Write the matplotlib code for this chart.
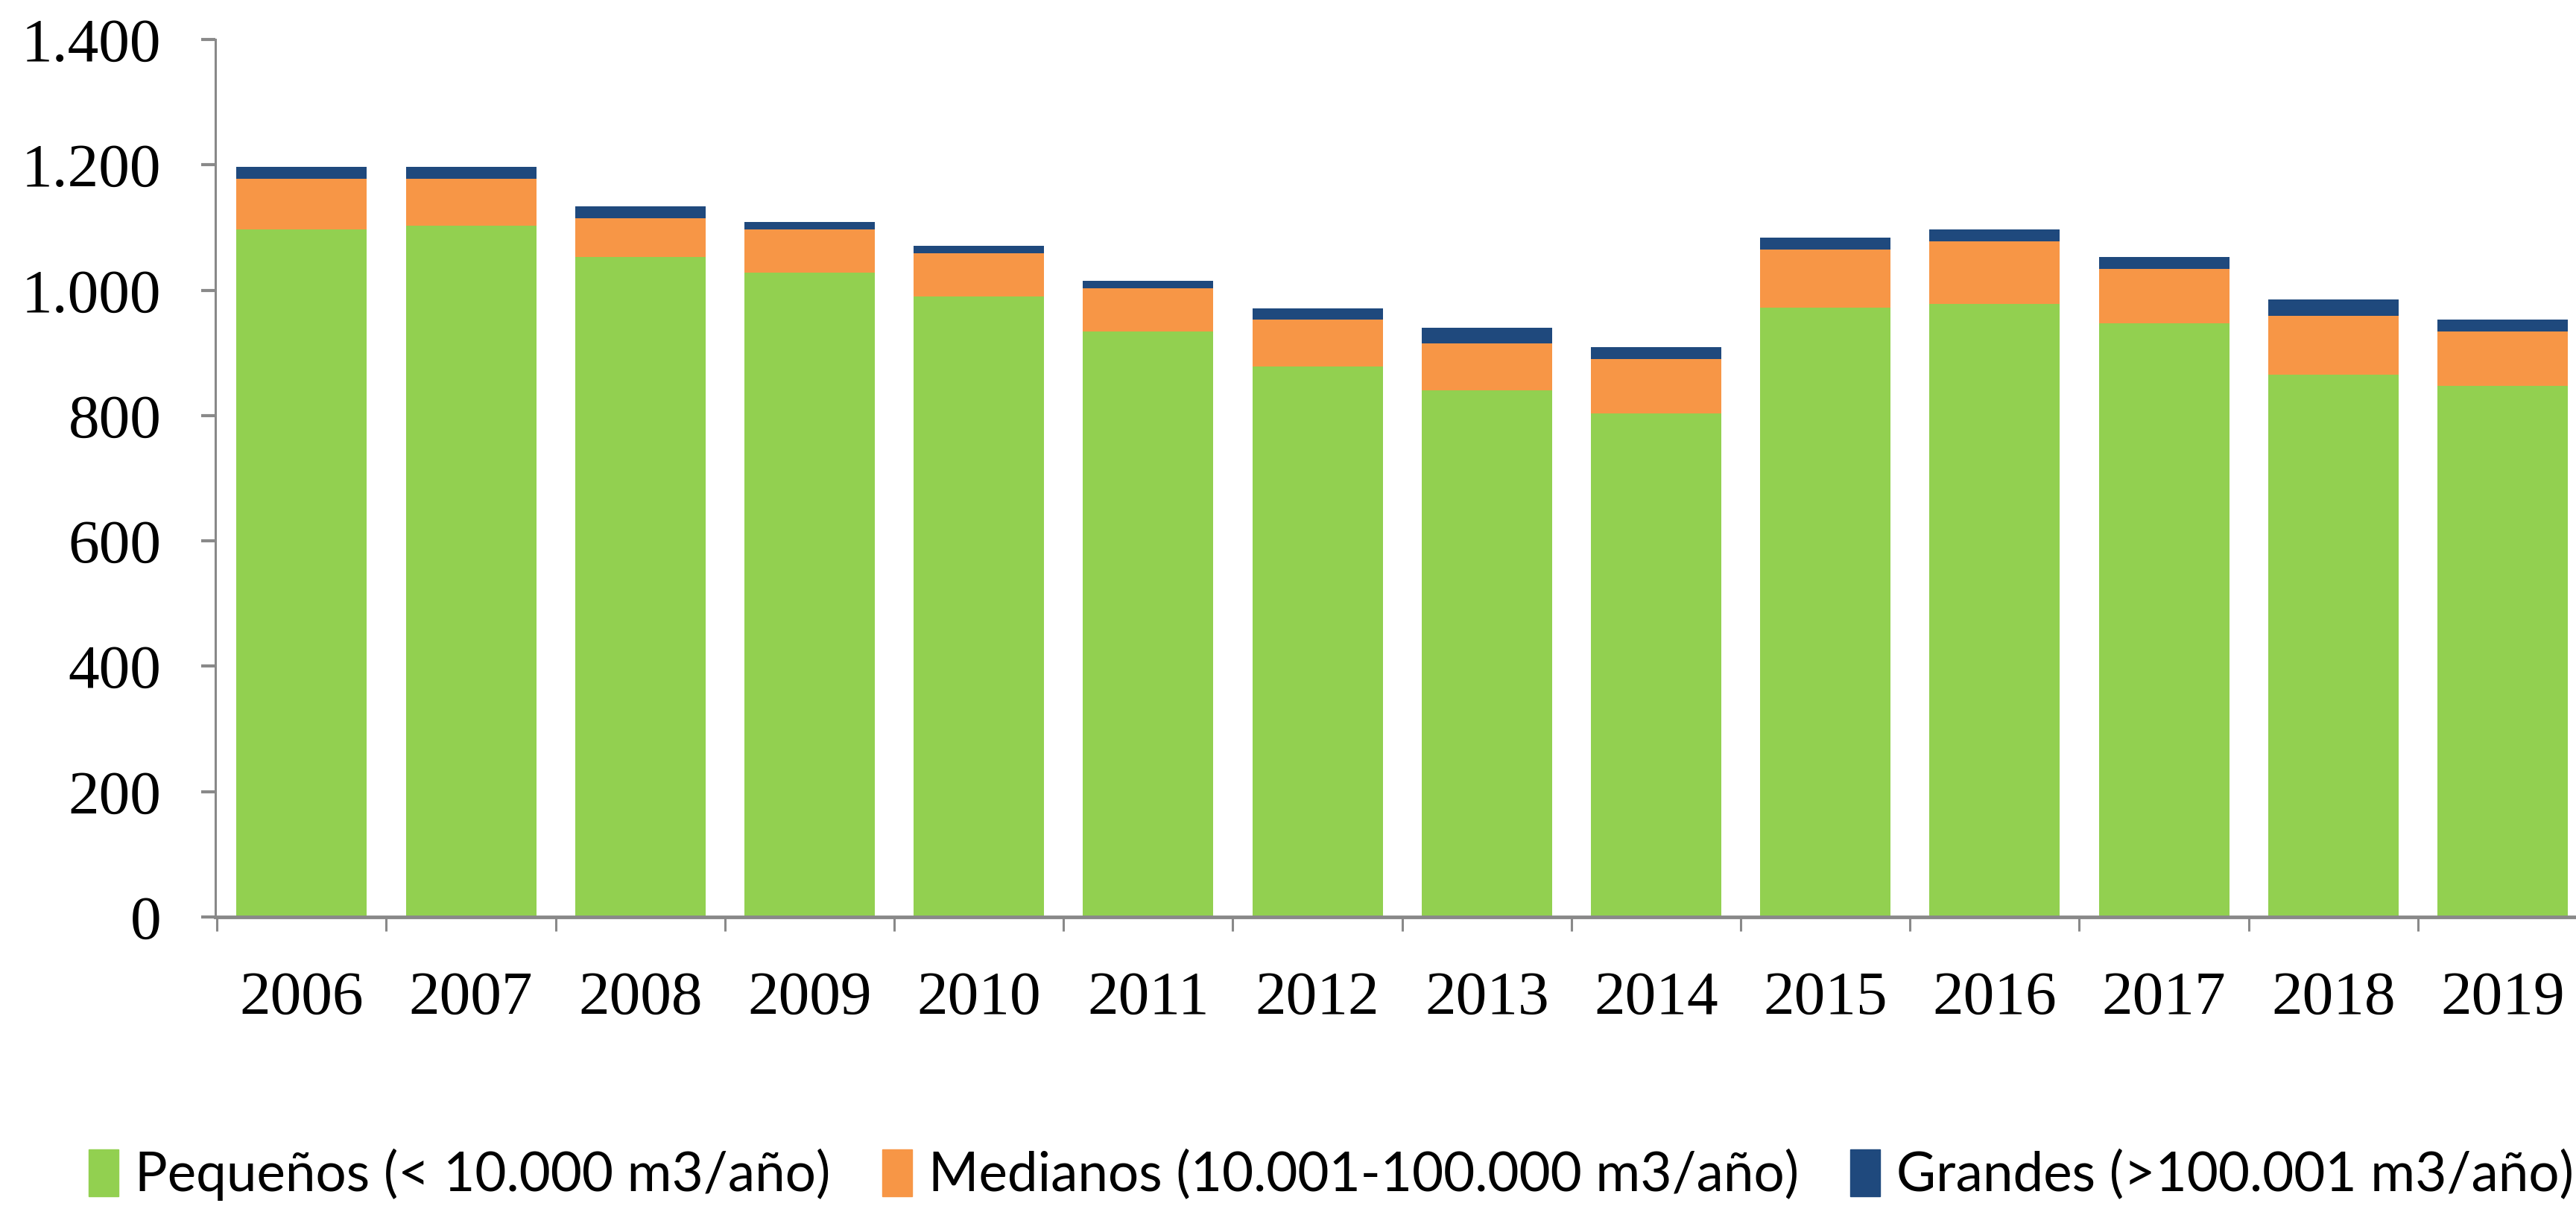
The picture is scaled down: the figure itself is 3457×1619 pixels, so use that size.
import numpy as np
import matplotlib.pyplot as plt
from matplotlib.patches import Patch

# datos
anios = ['2006', '2007', '2008', '2009', '2010', '2011', '2012',
         '2013', '2014', '2015', '2016', '2017', '2018', '2019']
pequenos = [1097, 1103, 1053, 1028, 990, 934, 878, 840, 803, 972, 978, 947, 865, 847]
medianos = [81, 75, 62, 69, 69, 69, 75, 75, 87, 93, 100, 87, 94, 87]
grandes = [19, 19, 19, 12, 12, 12, 18, 25, 19, 19, 19, 19, 26, 19]

etiquetas = ['Pequeños (< 10.000 m3/año)',
             'Medianos (10.001-100.000 m3/año)',
             'Grandes (>100.001 m3/año)']
colores = ['#92D050', '#F79646', '#1F497D']

W, H = 3457, 1619
fig = plt.figure(figsize=(W / 100, H / 100), dpi=100)
ax = fig.add_axes([288.5 / W, 1 - 1231 / H, 3183.6 / W, (1231 - 53) / H])

x = np.arange(len(anios))
p = np.array(pequenos)
m = np.array(medianos)
g = np.array(grandes)
ax.bar(x, p, width=0.77, color=colores[0])
ax.bar(x, m, width=0.77, bottom=p, color=colores[1])
ax.bar(x, g, width=0.77, bottom=p + m, color=colores[2])

ax.set_xlim(-0.512, 13.488)
ax.set_ylim(0, 1400)
ax.set_yticks(range(0, 1401, 200))
ax.set_yticklabels([f'{v:,}'.replace(',', '.') for v in range(0, 1401, 200)])

# marcas del eje x entre categorías, etiquetas centradas
ax.set_xticks(np.arange(-0.5, 14, 1))
ax.set_xticklabels([])
ax.set_xticks(x, minor=True)
ax.set_xticklabels(anios, minor=True)
ax.tick_params(axis='x', which='minor', length=0, pad=52)
ax.tick_params(axis='x', which='major', length=14, width=2.2, color='#898989')
ax.tick_params(axis='y', length=14, width=3, color='#898989', pad=38)

for lab in ax.get_xticklabels(minor=True) + ax.get_yticklabels():
    lab.set_fontfamily('Liberation Serif')
    lab.set_fontsize(60)

for s in ['top', 'right']:
    ax.spines[s].set_visible(False)
ax.spines['left'].set_color('#898989')
ax.spines['left'].set_linewidth(2.2)
ax.spines['bottom'].set_color('#898989')
ax.spines['bottom'].set_linewidth(3.5)

handles = [Patch(color=c) for c in colores]
fig.legend(handles, etiquetas, loc='center', ncol=3,
           bbox_to_anchor=(0.5 + 58 / W, 1 - 1577 / H), frameon=False,
           prop={'family': 'Lato', 'size': 52.5},
           handlelength=0.55, handleheight=0.95, handletextpad=0.3,
           columnspacing=0.95)

fig.savefig('out.png', dpi=100)
